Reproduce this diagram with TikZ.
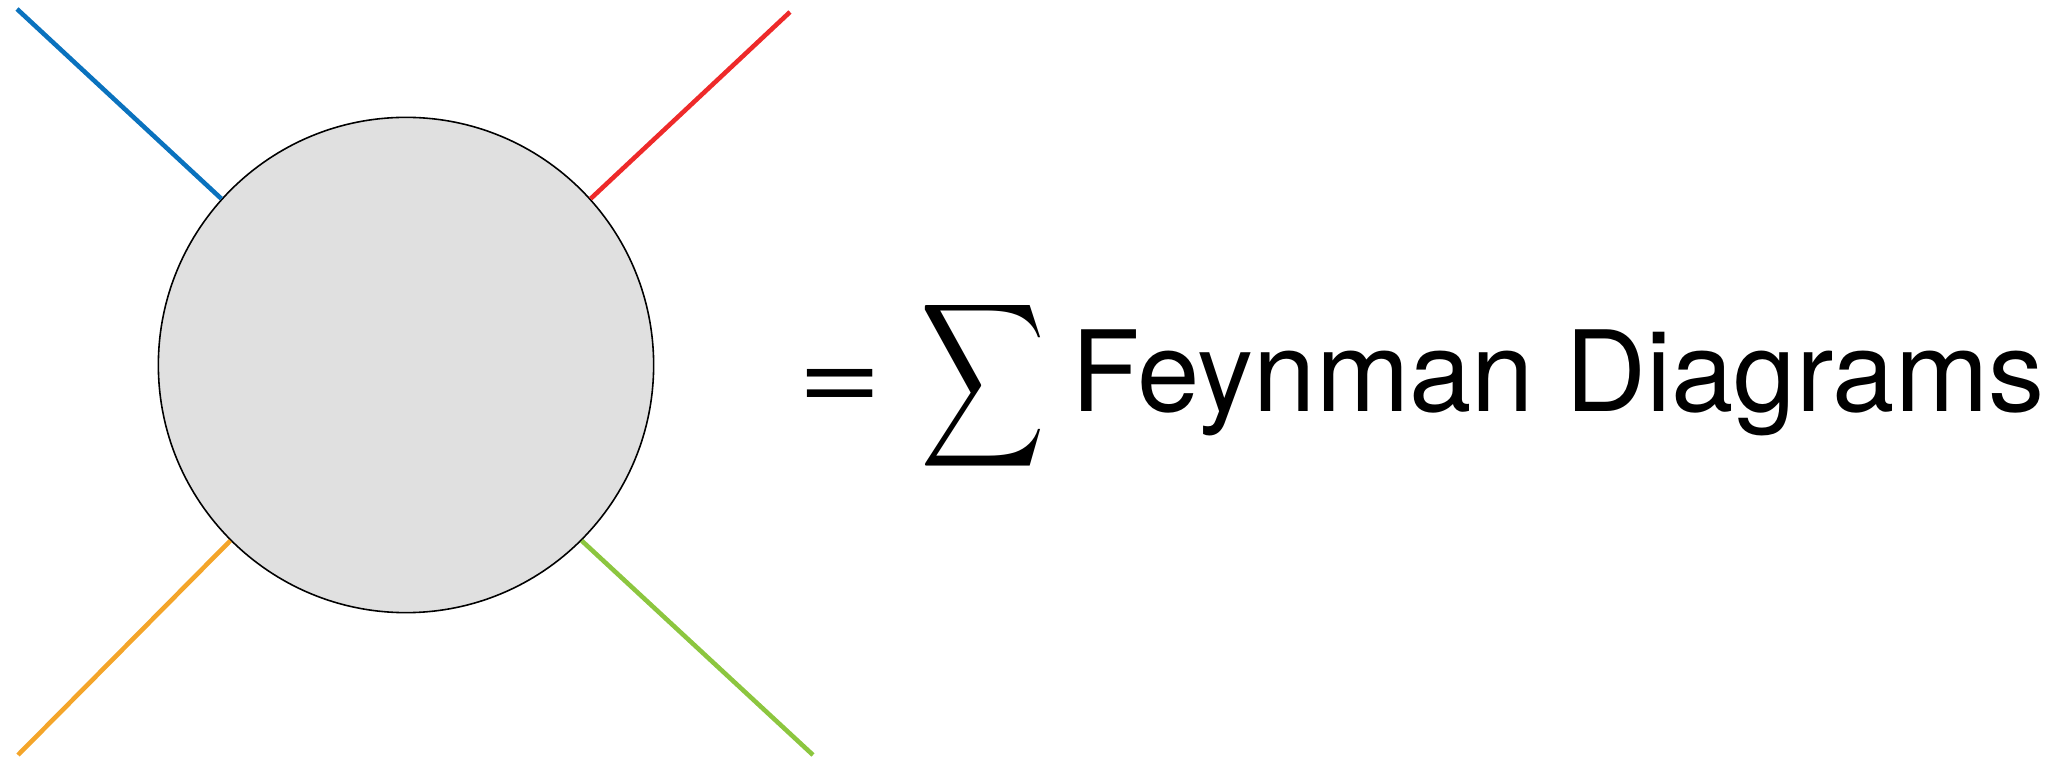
\documentclass[tikz,border=0pt]{standalone}
\usepackage{fontspec}
\setmainfont{TeX Gyre Heros}
\usepackage{graphicx}
\usetikzlibrary{positioning}
\definecolor{legblue}{HTML}{0A72BE}
\definecolor{legred}{HTML}{EE2A2A}
\definecolor{legorange}{HTML}{F4A52A}
\definecolor{leggreen}{HTML}{8CC63F}
\definecolor{blobgray}{HTML}{E0E0E0}

\begin{document}
\begin{tikzpicture}[
    x=0.01cm,y=-0.01cm,
    blob/.style={circle,draw=black,line width=0.45pt,fill=blobgray,minimum size=4.95cm,inner sep=0pt},
    leg/.style={line width=1.3pt},
    txt/.style={inner sep=0pt,font=\fontsize{31.9}{36}\selectfont}
]
\useasboundingbox (0,0) rectangle (2066,761);
\node[blob] (amp) at (406,365) {};

\coordinate (inblue) at (17,9);
\coordinate (inred) at (790,12);
\coordinate (outorange) at (18,755);
\coordinate (outgreen) at (813,755);

\draw[leg,legblue] (inblue) -- (amp.138);
\draw[leg,legred] (inred) -- (amp.42);
\draw[leg,legorange] (outorange) -- (amp.225);
\draw[leg,leggreen] (outgreen) -- (amp.-45);

\node[txt,anchor=base] (eq) at (840,412) {\scalebox{1.3}[1]{=}};
\node[txt] (sum) at (983,386) {\resizebox{1.25cm}{1.63cm}{$\displaystyle\sum$}};
\node[txt,anchor=base west] (label) at (1071,412) {Feynman Diagrams};
\end{tikzpicture}
\end{document}
